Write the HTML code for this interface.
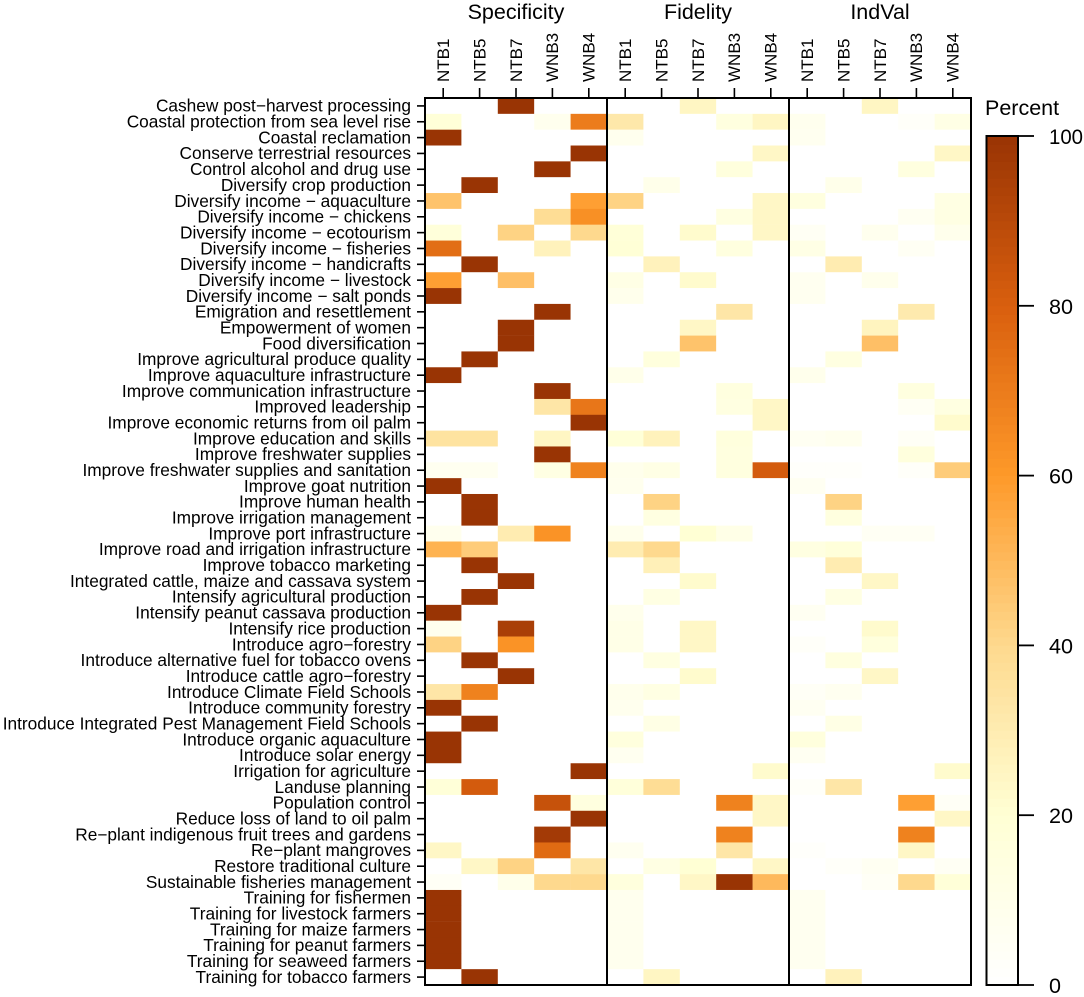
<!DOCTYPE html>
<html lang="en">
<head>
<meta charset="utf-8">
<title>Specificity, Fidelity and IndVal heatmap</title>
<style>
html,body{margin:0;padding:0;background:#fff;}
svg{display:block;font-family:"Liberation Sans",Arial,sans-serif;}
</style>
</head>
<body>
<svg id="chart" xmlns="http://www.w3.org/2000/svg" width="1084" height="997" viewBox="0 0 1084 997"></svg>
<script>
const categories = [
"Cashew post−harvest processing","Coastal protection from sea level rise","Coastal reclamation","Conserve terrestrial resources","Control alcohol and drug use","Diversify crop production","Diversify income − aquaculture","Diversify income − chickens","Diversify income − ecotourism","Diversify income − fisheries","Diversify income − handicrafts","Diversify income − livestock","Diversify income − salt ponds","Emigration and resettlement","Empowerment of women","Food diversification","Improve agricultural produce quality","Improve aquaculture infrastructure","Improve communication infrastructure","Improved leadership","Improve economic returns from oil palm","Improve education and skills","Improve freshwater supplies","Improve freshwater supplies and sanitation","Improve goat nutrition","Improve human health","Improve irrigation management","Improve port infrastructure","Improve road and irrigation infrastructure","Improve tobacco marketing","Integrated cattle, maize and cassava system","Intensify agricultural production","Intensify peanut cassava production","Intensify rice production","Introduce agro−forestry","Introduce alternative fuel for tobacco ovens","Introduce cattle agro−forestry","Introduce Climate Field Schools","Introduce community forestry","Introduce Integrated Pest Management Field Schools","Introduce organic aquaculture","Introduce solar energy","Irrigation for agriculture","Landuse planning","Population control","Reduce loss of land to oil palm","Re−plant indigenous fruit trees and gardens","Re−plant mangroves","Restore traditional culture","Sustainable fisheries management","Training for fishermen","Training for livestock farmers","Training for maize farmers","Training for peanut farmers","Training for seaweed farmers","Training for tobacco farmers"];
const groups = ["NTB1","NTB5","NTB7","WNB3","WNB4"];
const metrics = ["Specificity","Fidelity","IndVal"];
const specificity = [
[0,0,100,0,0],[18,0,0,8,70],[100,0,0,0,0],[0,0,0,0,100],[0,0,0,100,0],[0,100,0,0,0],[47,0,0,0,58],[0,0,0,38,63],[17,0,42,0,40],[75,0,0,27,0],[0,100,0,0,0],[58,0,48,0,0],[100,0,0,0,0],[0,0,0,100,0],
[0,0,100,0,0],[0,0,100,0,0],[0,100,0,0,0],[100,0,0,0,0],[0,0,0,100,0],[0,0,0,33,72],[0,0,0,0,100],[35,35,0,25,0],[0,0,0,100,0],[7,7,0,13,68],[100,0,0,0,0],[0,100,0,0,0],[0,100,0,0,0],[8,0,30,62,0],
[52,44,0,0,0],[0,100,0,0,0],[0,0,100,0,0],[0,100,0,0,0],[100,0,0,0,0],[8,0,95,0,0],[42,0,62,0,0],[0,100,0,0,0],[0,0,100,0,0],[33,68,0,0,0],[100,0,0,0,0],[0,100,0,0,0],[100,0,0,0,0],[100,0,0,0,0],
[0,0,0,0,100],[18,82,0,0,0],[0,0,0,86,15],[0,0,0,0,100],[0,0,0,97,0],[24,0,0,76,0],[0,24,42,0,33],[4,0,10,40,40],[100,0,0,0,0],[100,0,0,0,0],[100,0,0,0,0],[100,0,0,0,0],[100,0,0,0,0],[0,100,0,0,0]];
const fidelity = [
[0,0,25,0,0],[32,0,0,15,25],[8,0,0,0,0],[0,0,0,0,24],[0,0,0,16,0],[0,10,0,0,0],[42,0,0,0,24],[0,0,0,14,24],[18,0,22,0,24],[19,0,0,15,0],[0,27,0,0,0],[12,0,22,0,0],[9,0,0,0,0],[0,0,0,33,0],
[0,0,24,0,0],[0,0,47,0,0],[0,16,0,0,0],[10,0,0,0,0],[0,0,0,15,0],[0,0,0,14,24],[0,0,0,0,24],[18,27,0,16,0],[0,0,0,15,0],[9,12,0,15,82],[8,0,0,0,0],[0,42,0,0,0],[0,14,0,0,0],[9,0,20,11,0],
[30,40,0,0,0],[0,28,0,0,0],[0,0,22,0,0],[0,13,0,0,0],[9,0,0,0,0],[11,0,24,0,0],[11,0,24,0,0],[0,14,0,0,0],[0,0,22,0,0],[9,13,0,0,0],[8,0,0,0,0],[0,12,0,0,0],[16,0,0,0,0],[7,0,0,0,0],
[0,0,0,0,22],[17,38,0,0,0],[0,0,0,68,24],[0,0,0,0,24],[0,0,0,68,0],[7,0,0,33,0],[0,13,20,0,24],[16,0,24,100,50],[8,0,0,0,0],[8,0,0,0,0],[8,0,0,0,0],[8,0,0,0,0],[8,0,0,0,0],[0,25,0,0,0]];
const indval = [
[0,0,25,0,0],[8,0,0,3,12],[7,0,0,0,0],[0,0,0,0,24],[0,0,0,15,0],[0,10,0,0,0],[15,0,0,0,13],[0,0,0,6,13],[5,0,8,0,9],[12,0,0,5,0],[0,30,0,0,0],[7,0,9,0,0],[7,0,0,0,0],[0,0,0,31,0],
[0,0,26,0,0],[0,0,48,0,0],[0,14,0,0,0],[9,0,0,0,0],[0,0,0,15,0],[0,0,0,5,14],[0,0,0,0,22],[6,8,0,4,0],[0,0,0,16,0],[2,2,0,3,44],[6,0,0,0,0],[0,42,0,0,0],[0,15,0,0,0],[0,0,5,5,0],
[14,17,0,0,0],[0,30,0,0,0],[0,0,24,0,0],[0,13,0,0,0],[6,0,0,0,0],[0,0,22,0,0],[3,0,16,0,0],[0,15,0,0,0],[0,0,24,0,0],[4,7,0,0,0],[6,0,0,0,0],[0,12,0,0,0],[16,0,0,0,0],[6,0,0,0,0],
[0,0,0,0,22],[3,33,0,0,0],[0,0,0,58,4],[0,0,0,0,24],[0,0,0,68,0],[2,0,0,24,0],[0,3,6,0,5],[0,0,4,40,18],[7,0,0,0,0],[7,0,0,0,0],[7,0,0,0,0],[7,0,0,0,0],[7,0,0,0,0],[0,27,0,0,0]];
const legendTicks = [0,20,40,60,80,100];
const palette = ["#ffffff","#ffffd4","#fed98e","#fe9929","#d95f0e","#993404"];

const series = [specificity, fidelity, indval];
const svg = document.getElementById('chart');
const NS = 'http://www.w3.org/2000/svg';
const plot = {left:425, right:971, top:98, bottom:985};
const legend = {left:986.5, right:1018, top:136, bottom:985};
const colW = (plot.right-plot.left)/(metrics.length*groups.length);
const rowH = (plot.bottom-plot.top)/categories.length;
const xScale = (m,g) => plot.left + (m*groups.length+g)*colW;
const yScale = r => plot.top + r*rowH;
const legendY = v => legend.bottom - (v/100)*(legend.bottom-legend.top);
function colorFor(v){
  const t = Math.max(0,Math.min(1,v/100))*(palette.length-1);
  const i = Math.min(palette.length-2,Math.floor(t));
  const f = t-i;
  const a = palette[i], b = palette[i+1];
  const ch = k => {
    const p = parseInt(a.substr(1+k*2,2),16), q = parseInt(b.substr(1+k*2,2),16);
    return Math.round(p+(q-p)*f);
  };
  return 'rgb('+ch(0)+','+ch(1)+','+ch(2)+')';
}
function make(tag,attrs,parent){
  const e = document.createElementNS(NS,tag);
  for(const k in attrs) e.setAttribute(k,attrs[k]);
  (parent||svg).appendChild(e);
  return e;
}
const LABEL_SIZE = 17.3;
const COLUMN_SIZE = 17;
const TITLE_SIZE = 21.5;

// heatmap cells
series.forEach((matrix,m)=>{
  matrix.forEach((row,r)=>{
    row.forEach((v,g)=>{
      const cell = make('rect',{x:xScale(m,g),y:yScale(r),width:colW+0.2,height:rowH+0.2,fill:colorFor(v)});
      
      
    });
  });
});

// row labels and ticks
categories.forEach((name,r)=>{
  const yc = yScale(r)+rowH/2;
  const tick = make('line',{x1:plot.left-8,x2:plot.left,y1:yc,y2:yc,stroke:'#000','stroke-width':1.6});
  
  
  const label = make('text',{x:411,y:yc+5.8,'text-anchor':'end','font-size':LABEL_SIZE,fill:'#000'});
  label.textContent = name;
  
  
});

// column labels, ticks and metric titles
metrics.forEach((metric,m)=>{
  const cx = (xScale(m,0)+xScale(m,groups.length))/2;
  const title = make('text',{x:cx,y:19,'text-anchor':'middle','font-size':TITLE_SIZE,fill:'#000'});
  title.textContent = metric;
  
  
  groups.forEach((grp,g)=>{
    const xc = xScale(m,g)+colW/2;
    const tick = make('line',{x1:xc,x2:xc,y1:plot.top-10,y2:plot.top,stroke:'#000','stroke-width':1.6});
    
    
    const label = make('text',{x:0,y:0,'font-size':COLUMN_SIZE,fill:'#000',transform:'translate('+(xc+5.8)+',82) rotate(-90)'});
    label.textContent = grp;
    
    
  });
});

// panel frame and dividers
const frame = make('rect',{x:plot.left,y:plot.top,width:plot.right-plot.left,height:plot.bottom-plot.top,fill:'none',stroke:'#000','stroke-width':2});


for(let m=1;m<metrics.length;m++){
  const x = xScale(m,0);
  const div = make('line',{x1:x,x2:x,y1:plot.top,y2:plot.bottom,stroke:'#000','stroke-width':2});
  
  
}

// colour bar
const legendSpan = legendTicks[legendTicks.length-1]-legendTicks[0];
for(let i=0;i<legendSpan;i++){
  const band = make('rect',{x:legend.left,y:legendY(i+1),width:legend.right-legend.left,height:legendY(i)-legendY(i+1)+0.4,fill:colorFor(i+0.5)});
  
  
}
const barFrame = make('rect',{x:legend.left,y:legend.top,width:legend.right-legend.left,height:legend.bottom-legend.top,fill:'none',stroke:'#000','stroke-width':2});


legendTicks.forEach(v=>{
  const y = legendY(v);
  const tick = make('line',{x1:legend.right,x2:legend.right+16,y1:y,y2:y,stroke:'#000','stroke-width':1.8});
  
  
  const label = make('text',{x:1049,y:y+8,'font-size':TITLE_SIZE,fill:'#000',textLength:v===100?34:(v===0?12:24),lengthAdjust:'spacingAndGlyphs'});
  label.textContent = v;
  
  
});
const barTitle = make('text',{x:985,y:115,'font-size':TITLE_SIZE,fill:'#000'});
barTitle.textContent = 'Percent';


</script>
</body>
</html>
